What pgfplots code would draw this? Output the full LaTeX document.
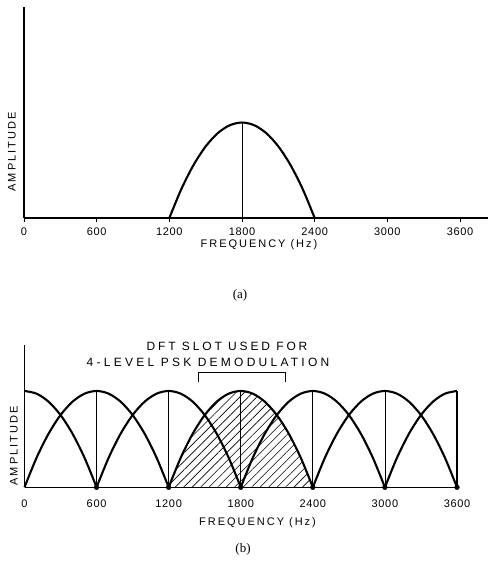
\documentclass[border=0pt]{standalone}
\usepackage{pgfplots}
\pgfplotsset{compat=1.18}
\usepackage{fontspec}
\setmainfont{Liberation Serif}
\newfontfamily\lab[LetterSpace=18]{Liberation Sans}
\newfontfamily\ttl[LetterSpace=24]{Liberation Sans}
\newfontfamily\ttlb[LetterSpace=27]{Liberation Sans}
\newfontfamily\tck[LetterSpace=6]{Liberation Sans}
\usetikzlibrary{patterns.meta}

\pgfplotsset{
  common/.style={
    scale only axis, axis lines=left, axis line style={line width=1.1pt,-},
    xmin=0, ymin=0, ytick=\empty, xtick={0,600,...,3600},
    tick style={line width=0.8pt,black},
    xticklabel style={font=\tck\fontsize{11}{13}\selectfont},
    /pgf/number format/assume math mode=true,
    /pgf/number format/set thousands separator={},
    clip=false,
  },
  lobe/.style={line width=2.1pt, black, smooth, tension=0.5},
  vl/.style={line width=0.7pt, black},
}

\begin{document}
\begin{tikzpicture}
% ---------------- panel (a)
\begin{axis}[common, at={(24pt,368pt)}, anchor=origin,
  width=464pt, height=211pt, xmax=3831, ymax=2.21,
  xtick align=outside, major tick length=4pt,
  xticklabel style={yshift=-2pt}]
\addplot[lobe] coordinates {(1200,0)(1300,.3056)(1400,.5556)(1500,.75)(1600,.8889)(1700,.9722)(1800,1)(1900,.9722)(2000,.8889)(2100,.75)(2200,.5556)(2300,.3056)(2400,0)};
\addplot[vl] coordinates {(1800,0)(1800,1)};
\node[font=\lab\fontsize{11}{13}\selectfont] at (axis cs:1940,-0.28) {FREQUENCY (Hz)};
\end{axis}
\node[font=\lab\fontsize{11}{13}\selectfont, rotate=90] at (12pt,434pt) {AMPLITUDE};
\node[font=\fontsize{13}{15}\selectfont] at (240pt,291pt) {(a)};
% ---------------- panel (b)
\begin{axis}[common, at={(24.5pt,98.7pt)}, anchor=origin,
  width=432.5pt, height=142.3pt, xmax=3600, ymax=1.477,
  major tick length=0pt, xticklabel style={yshift=-9pt}]
\addplot[draw=none, pattern={Lines[angle=45,distance=6pt,line width=0.6pt]}, smooth, tension=0.5] coordinates {(1200,0)(1300,.3056)(1400,.5556)(1500,.75)(1600,.8889)(1700,.9722)(1800,1)(1900,.9722)(2000,.8889)(2100,.75)(2200,.5556)(2300,.3056)(2400,0)} \closedcycle;
\addplot[lobe] coordinates {(0,1)(100,.9722)(200,.8889)(300,.75)(400,.5556)(500,.3056)(600,0)};
\addplot[lobe] coordinates {(0,0)(100,.3056)(200,.5556)(300,.75)(400,.8889)(500,.9722)(600,1)(700,.9722)(800,.8889)(900,.75)(1000,.5556)(1100,.3056)(1200,0)};
\addplot[lobe] coordinates {(600,0)(700,.3056)(800,.5556)(900,.75)(1000,.8889)(1100,.9722)(1200,1)(1300,.9722)(1400,.8889)(1500,.75)(1600,.5556)(1700,.3056)(1800,0)};
\addplot[lobe] coordinates {(1200,0)(1300,.3056)(1400,.5556)(1500,.75)(1600,.8889)(1700,.9722)(1800,1)(1900,.9722)(2000,.8889)(2100,.75)(2200,.5556)(2300,.3056)(2400,0)};
\addplot[lobe] coordinates {(1800,0)(1900,.3056)(2000,.5556)(2100,.75)(2200,.8889)(2300,.9722)(2400,1)(2500,.9722)(2600,.8889)(2700,.75)(2800,.5556)(2900,.3056)(3000,0)};
\addplot[lobe] coordinates {(2400,0)(2500,.3056)(2600,.5556)(2700,.75)(2800,.8889)(2900,.9722)(3000,1)(3100,.9722)(3200,.8889)(3300,.75)(3400,.5556)(3500,.3056)(3600,0)};
\addplot[lobe] coordinates {(3000,0)(3100,.3056)(3200,.5556)(3300,.75)(3400,.8889)(3500,.9722)(3600,1)};
\addplot[vl] coordinates {(600,0)(600,1)};
\addplot[vl] coordinates {(1200,0)(1200,1)};
\addplot[vl] coordinates {(1800,0)(1800,1)};
\addplot[vl] coordinates {(2400,0)(2400,1)};
\addplot[vl] coordinates {(3000,0)(3000,1)};
\addplot[vl, line width=1.1pt] coordinates {(3600,0)(3600,1)};
\addplot[only marks, mark=*, mark size=2.4pt, black] coordinates {(600,0)(1200,0)(1800,0)(2400,0)(3000,0)(3600,0)};
\draw[line width=0.9pt] (axis cs:1450,1.093) -- (axis cs:1450,1.197) -- (axis cs:2173,1.197) -- (axis cs:2173,1.093);
\node[font=\lab\fontsize{11}{13}\selectfont] at (axis cs:1940,-0.37) {FREQUENCY (Hz)};
\end{axis}
\node[font=\ttl\fontsize{12}{14}\selectfont] at (227pt,240pt) {DFT SLOT USED FOR};
\node[font=\ttlb\fontsize{12}{14}\selectfont] at (208pt,224pt) {4-LEVEL PSK DEMODULATION};
\node[font=\lab\fontsize{11}{13}\selectfont, rotate=90] at (14pt,140pt) {AMPLITUDE};
\node[font=\fontsize{13}{15}\selectfont] at (243pt,37pt) {(b)};
\path (0pt,0pt) rectangle (488pt,586pt);
\end{tikzpicture}
\end{document}
